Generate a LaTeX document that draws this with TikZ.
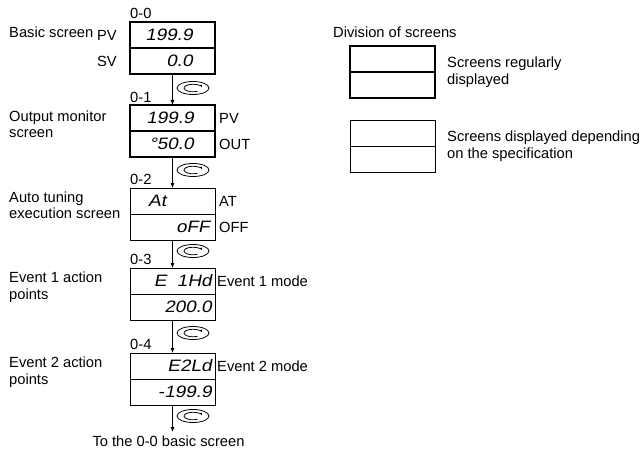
\documentclass[tikz,border=0pt]{standalone}
\usepackage{fontspec}
\setmainfont{Liberation Sans}
\newfontfamily\segfont[FakeSlant=0.2,FakeStretch=1.15]{Liberation Sans}
\usetikzlibrary{positioning,arrows.meta}

\tikzset{
  cyclekey/.pic={
    \draw[line width=0.8pt] (0,0) circle [x radius=16, y radius=6.5];
    \draw[line width=0.8pt, -{Latex[length=2.5pt,width=2.5pt]}] (60:9 and 3.8) arc [start angle=60, end angle=350, x radius=9, y radius=3.8];
  }
}

\begin{document}
\begin{tikzpicture}[x=1pt, y=-1pt,
    screen/.style={draw, line width=0.9pt, minimum width=85pt, minimum height=26pt, inner sep=0pt, outer sep=0pt},
    strong/.style={line width=2.4pt},
    reading/.style={font=\segfont\fontsize{16.5}{18}\selectfont, inner sep=0pt},
    lbl/.style={font=\fontsize{14.7}{16.5}\selectfont, inner sep=0pt},
    desc/.style={lbl, anchor=west, align=left},
    flow/.style={line width=0.8pt, -{Latex[length=5pt,width=4pt]}}]

    \useasboundingbox (0,0) rectangle (643,452);

    % screens
    \node[screen, strong] (s0a) at (172.5,35) {};
    \node[screen, strong, below=0pt of s0a] (s0b) {};
    \node[screen, strong] (s1a) at (172.5,118) {};
    \node[screen, strong, below=0pt of s1a] (s1b) {};
    \node[screen] (s2a) at (172.5,201) {};
    \node[screen, below=0pt of s2a] (s2b) {};
    \node[screen] (s3a) at (172.5,281) {};
    \node[screen, below=0pt of s3a] (s3b) {};
    \node[screen] (s4a) at (172.5,366) {};
    \node[screen, below=0pt of s4a] (s4b) {};

    % readings
    \node[reading, left=22pt of s0a.east] (v0a) {199.9};
    \node[reading, left=22pt of s0b.east] (v0b) {0.0};
    \node[reading, left=21pt of s1a.east] (v1a) {199.9};
    \node[reading, left=21pt of s1b.east] (v1b) {°50.0};
    \node[reading, right=18pt of s2a.west] (v2a) {At};
    \node[reading, left=5pt of s2b.east] (v2b) {oFF};
    \node[reading, left=3pt of s3a.east] (v3a) {E\ \ 1Hd};
    \node[reading, left=3pt of s3b.east] (v3b) {200.0};
    \node[reading, left=3pt of s4a.east] (v4a) {E2Ld};
    \node[reading, left=3pt of s4b.east] (v4b) {-199.9};

    % side labels
    \node[lbl, left=13pt of s0a.west] (pv0) {PV};
    \node[lbl, left=13pt of s0b.west] (sv0) {SV};
    \node[lbl, right=4pt of s1a.east] (pv1) {PV};
    \node[lbl, right=4pt of s1b.east] (out1) {OUT};
    \node[lbl, right=4pt of s2a.east] (at2) {AT};
    \node[lbl, right=4pt of s2b.east] (off2) {OFF};
    \node[lbl, right=2pt of s3a.east] (mode3) {Event 1 mode};
    \node[lbl, right=2pt of s4a.east] (mode4) {Event 2 mode};

    % screen numbers
    \node[lbl, anchor=south west] (n0) at ([yshift=3pt] s0a.north west) {0-0};
    \node[lbl, anchor=south west] (n1) at ([yshift=2.5pt] s1a.north west) {0-1};
    \node[lbl, anchor=south west] (n2) at ([yshift=3pt] s2a.north west) {0-2};
    \node[lbl, anchor=south west] (n3) at ([yshift=3pt] s3a.north west) {0-3};
    \node[lbl, anchor=south west] (n4) at ([yshift=3pt] s4a.north west) {0-4};

    % descriptions
    \node[desc] (d0) at (9,32) {Basic screen};
    \node[desc] (d1) at (9,124) {Output monitor\\screen};
    \node[desc] (d2) at (9,205) {Auto tuning\\execution screen};
    \node[desc] (d3) at (9,287) {Event 1 action\\points};
    \node[desc] (d4) at (9,372) {Event 2 action\\points};

    % key presses
    \draw[flow] (s0b) -- (s1a);
    \draw[flow] (s1b) -- (s2a);
    \draw[flow] (s2b) -- (s3a);
    \draw[flow] (s3b) -- (s4a);
    \coordinate (back) at (172.5,432);
    \draw[flow] (s4b) -- (back);
    \node[lbl, below=4pt of back, xshift=-4pt] (backtxt) {To the 0-0 basic screen};

    \pic at (193,88) {cyclekey};
    \pic at (193,170) {cyclekey};
    \pic at (193,251) {cyclekey};
    \pic at (193,333) {cyclekey};
    \pic at (193,416) {cyclekey};

    % legend
    \node[lbl, anchor=west] (legend) at (333,32) {Division of screens};
    \node[screen, strong] (k1a) at (392.5,59) {};
    \node[screen, strong, below=0pt of k1a] (k1b) {};
    \node[desc, right=12pt of k1a.south east] (k1t) {Screens regularly\\displayed};
    \node[screen] (k2a) at (392.5,133) {};
    \node[screen, below=0pt of k2a] (k2b) {};
    \node[desc, right=12pt of k2a.south east] (k2t) {Screens displayed depending\\on the specification};

\end{tikzpicture}
\end{document}
